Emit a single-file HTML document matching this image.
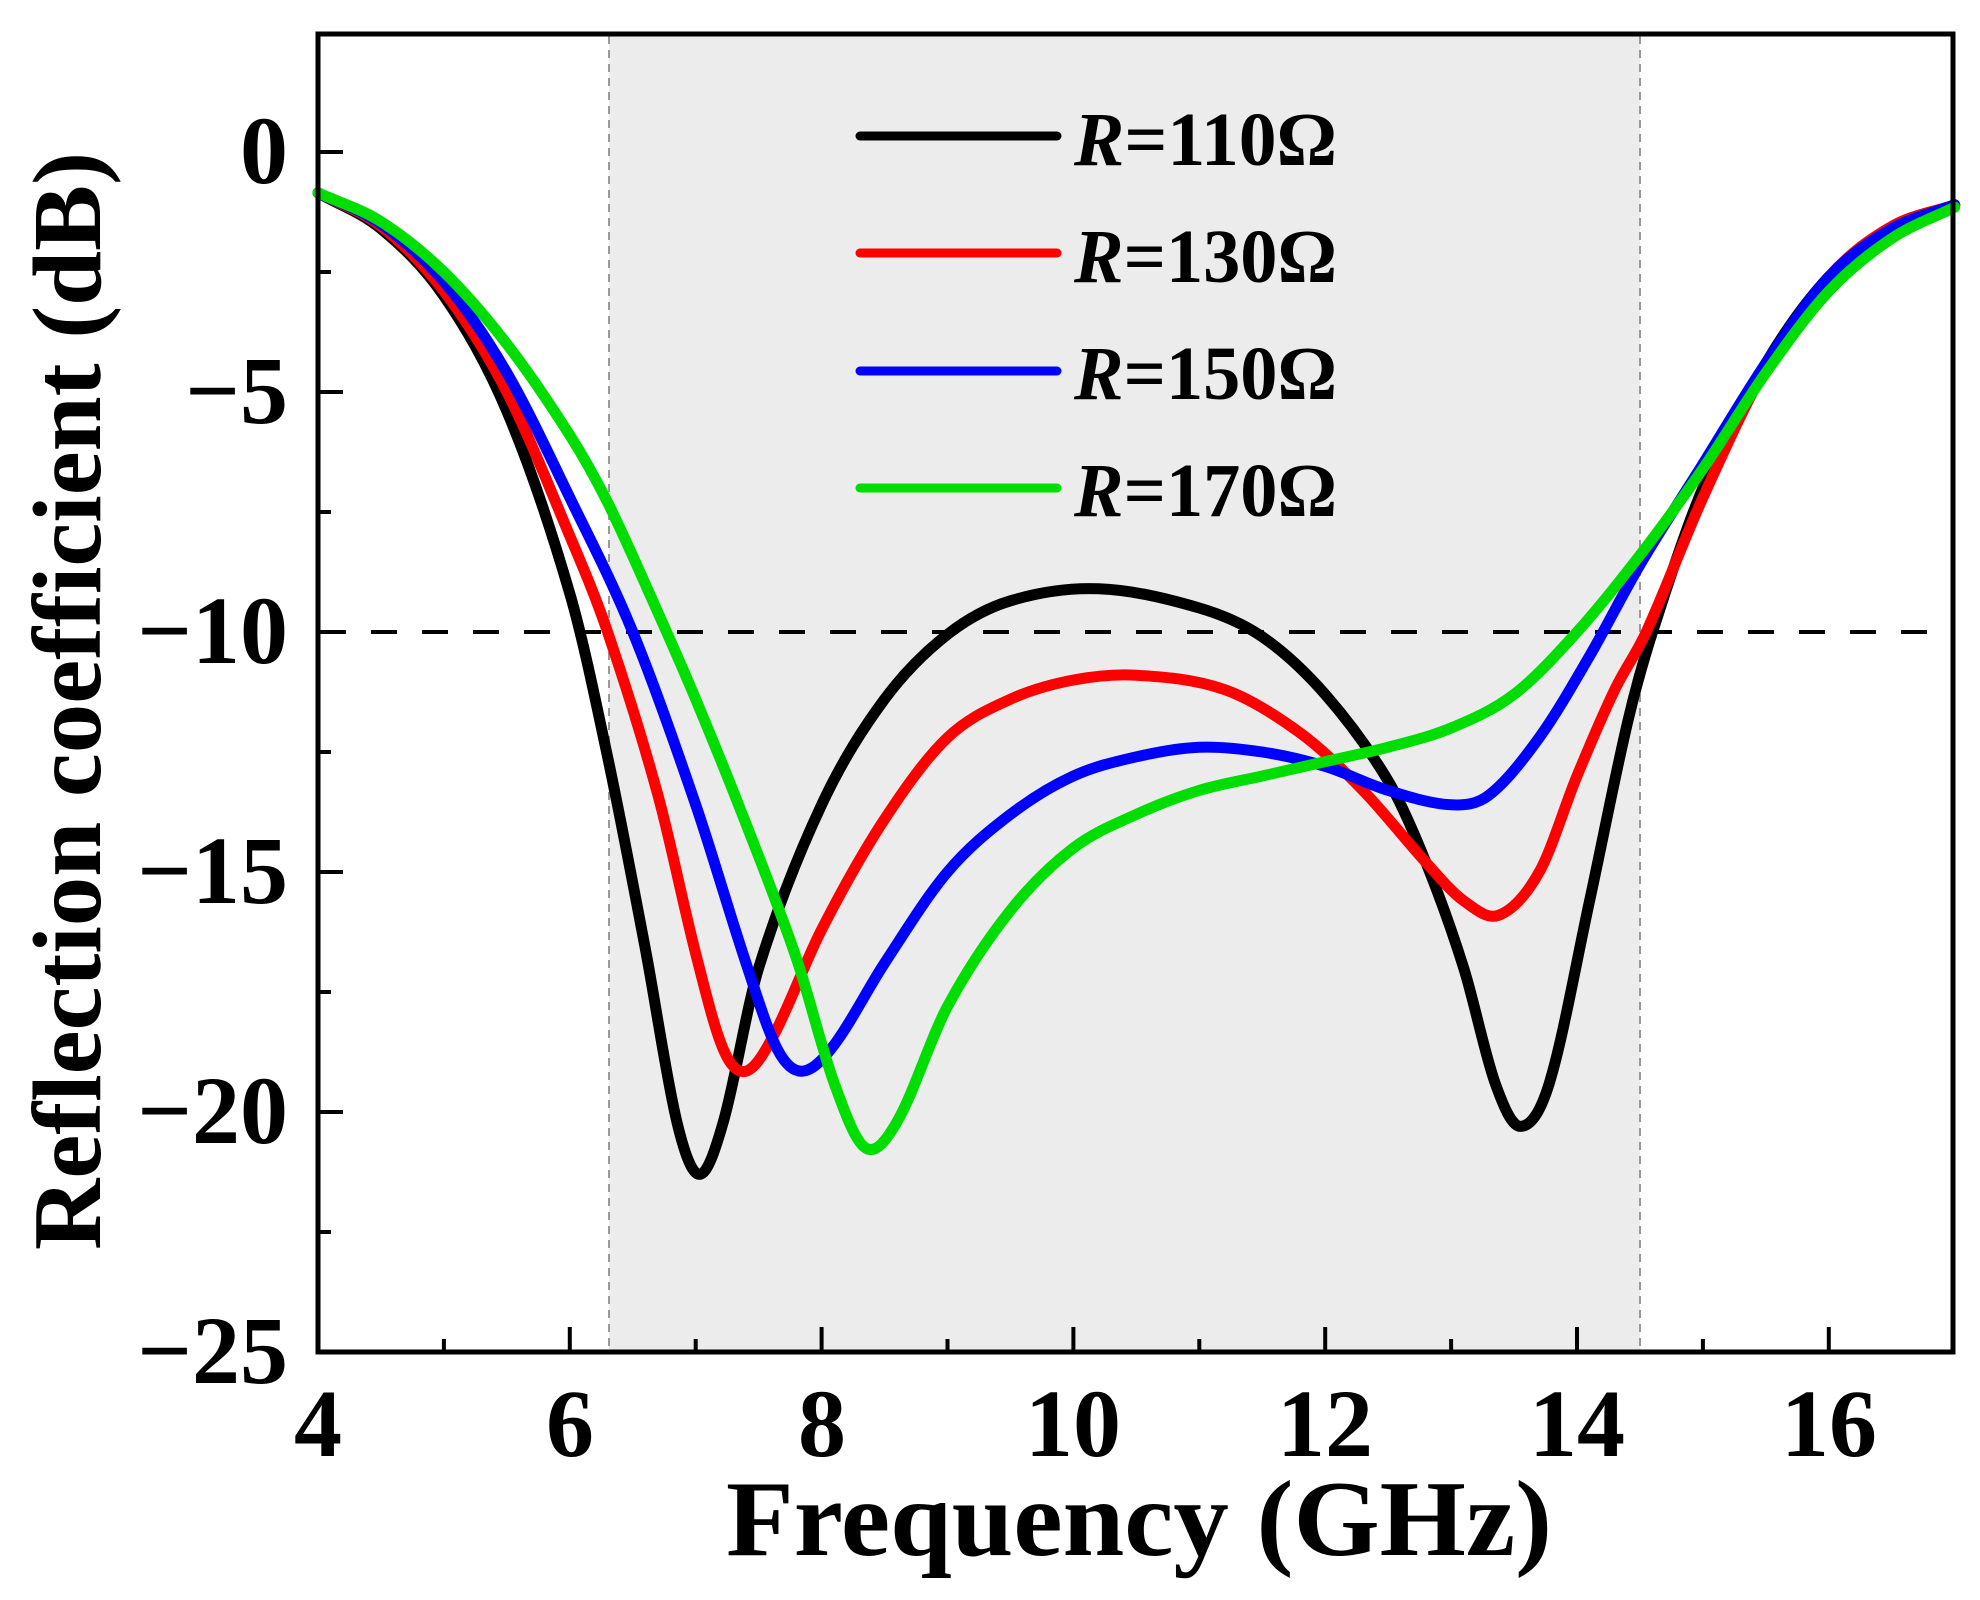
<!DOCTYPE html>
<html><head><meta charset="utf-8"><style>
html,body{margin:0;padding:0;background:#fff;}
svg{display:block;}
text{font-family:"Liberation Serif",serif;font-weight:bold;fill:#000;}
</style></head><body>
<svg id="s" width="1980" height="1600" viewBox="0 0 1980 1600" xmlns="http://www.w3.org/2000/svg">
<rect x="609" y="34" width="1031" height="1318" fill="#ececec"/>
<line x1="609" y1="36" x2="609" y2="1350" stroke="#999" stroke-width="2" stroke-dasharray="8,6"/>
<line x1="1640" y1="36" x2="1640" y2="1350" stroke="#999" stroke-width="2" stroke-dasharray="8,6"/>
<line x1="320" y1="632" x2="1953" y2="632" stroke="#000" stroke-width="4" stroke-dasharray="26,25"/>
<g id="curves" fill="none" stroke-width="11" stroke-linejoin="round" stroke-linecap="round"></g>
<g id="ticks" stroke="#000" stroke-width="4"></g>
<rect x="318" y="34" width="1635" height="1318" fill="none" stroke="#000" stroke-width="5"/>
<g font-size="96" text-anchor="middle">
<text x="318" y="1456">4</text><text x="570" y="1456">6</text><text x="822" y="1456">8</text>
<text x="1073" y="1456">10</text><text x="1325" y="1456">12</text><text x="1577" y="1456">14</text><text x="1829" y="1456">16</text>
</g>
<g font-size="96" text-anchor="end">
<text x="288" y="183">0</text><text x="288" y="423">−5</text><text x="288" y="663">−10</text>
<text x="288" y="903">−15</text><text x="288" y="1143">−20</text><text x="288" y="1383">−25</text>
</g>
<text x="726" y="1555" font-size="108" textLength="826" lengthAdjust="spacingAndGlyphs">Frequency (GHz)</text>
<text transform="translate(100,1250) rotate(-90)" font-size="98" textLength="1098" lengthAdjust="spacingAndGlyphs">Reflection coefficient (dB)</text>
<g stroke-width="9" stroke-linecap="round">
<line x1="860" y1="136" x2="1057" y2="136" stroke="#000"/>
<line x1="860" y1="253" x2="1057" y2="253" stroke="#f00"/>
<line x1="860" y1="371" x2="1057" y2="371" stroke="#00f"/>
<line x1="860" y1="488" x2="1057" y2="488" stroke="#00dd00"/>
</g>
<g font-size="76">
<text x="1074" y="165" textLength="263" lengthAdjust="spacingAndGlyphs"><tspan font-style="italic">R</tspan>=110Ω</text>
<text x="1074" y="282" textLength="263" lengthAdjust="spacingAndGlyphs"><tspan font-style="italic">R</tspan>=130Ω</text>
<text x="1074" y="399" textLength="263" lengthAdjust="spacingAndGlyphs"><tspan font-style="italic">R</tspan>=150Ω</text>
<text x="1074" y="516" textLength="263" lengthAdjust="spacingAndGlyphs"><tspan font-style="italic">R</tspan>=170Ω</text>
</g>
</svg>
<script>
var X=function(f){return 318+(f-4)*125.9;},Y=function(d){return 152-d*48;};
var data={
"#000":[[4,-0.85],[4.5,-1.6],[5,-3.0],[5.5,-5.4],[6,-9.2],[6.3,-12.6],[6.6,-16.6],[6.85,-20.2],[7.03,-21.3],[7.22,-20.2],[7.5,-17.0],[8,-13.6],[8.5,-11.4],[9,-10.05],[9.5,-9.35],[10.2,-9.1],[11,-9.5],[11.5,-10.1],[12,-11.3],[12.5,-13.1],[12.8,-14.8],[13.1,-17.0],[13.35,-19.4],[13.55,-20.3],[13.78,-19.4],[14.1,-15.6],[14.4,-11.9],[14.6,-10],[15,-7],[15.5,-4.4],[16,-2.6],[16.5,-1.6],[17,-1.1]],
"#f00":[[4,-0.85],[4.5,-1.55],[5,-2.9],[5.5,-5.0],[6,-8.0],[6.3,-10],[6.7,-13.4],[7.0,-16.7],[7.22,-18.7],[7.4,-19.15],[7.62,-18.4],[8,-16.2],[8.5,-13.9],[9,-12.2],[9.5,-11.4],[10,-11.0],[10.5,-10.9],[11.2,-11.2],[11.8,-12.1],[12.3,-13.3],[12.8,-14.8],[13.1,-15.6],[13.38,-15.9],[13.7,-15.0],[14,-13.0],[14.3,-11.2],[14.55,-10],[15,-7.2],[15.5,-4.5],[16,-2.6],[16.5,-1.55],[17,-1.1]],
"#00f":[[4,-0.85],[4.5,-1.5],[5,-2.7],[5.5,-4.6],[6,-7.2],[6.5,-10],[7,-13.6],[7.4,-16.9],[7.65,-18.7],[7.85,-19.15],[8.1,-18.6],[8.5,-16.9],[9,-15.0],[9.5,-13.8],[10,-13.0],[10.5,-12.6],[11,-12.4],[11.5,-12.5],[12,-12.8],[12.5,-13.3],[13,-13.6],[13.3,-13.4],[13.7,-12.2],[14.1,-10.5],[14.5,-8.6],[15,-6.5],[15.5,-4.4],[16,-2.6],[16.5,-1.6],[17,-1.1]],
"#00dd00":[[4,-0.85],[4.5,-1.45],[5,-2.5],[5.5,-4.0],[6,-5.9],[6.3,-7.3],[6.65,-9.3],[7,-11.4],[7.4,-14.0],[7.8,-16.8],[8.1,-19.4],[8.35,-20.75],[8.6,-20.2],[9,-17.8],[9.5,-15.8],[10,-14.5],[10.5,-13.8],[11,-13.3],[11.5,-13.0],[12,-12.7],[12.5,-12.4],[13,-12.0],[13.5,-11.3],[14,-10],[14.5,-8.4],[15,-6.6],[15.5,-4.6],[16,-2.9],[16.5,-1.8],[17,-1.15]]};
var g=document.getElementById('curves'),ns='http://www.w3.org/2000/svg';
for(var c in data){var p=data[c].map(function(a){return[X(a[0]),Y(a[1])];});
var n=p.length,m=[];
for(var i=0;i<n;i++){var a=p[Math.max(0,i-1)],b=p[Math.min(n-1,i+1)];m.push((b[1]-a[1])/(b[0]-a[0]));}
var d='M'+p[0][0]+','+p[0][1];
for(var i=0;i<n-1;i++){var dx=(p[i+1][0]-p[i][0])/3;
d+=' C'+(p[i][0]+dx)+','+(p[i][1]+m[i]*dx)+' '+(p[i+1][0]-dx)+','+(p[i+1][1]-m[i+1]*dx)+' '+p[i+1][0]+','+p[i+1][1];}
var e=document.createElementNS(ns,'path');e.setAttribute('d',d);e.setAttribute('stroke',c);g.appendChild(e);}
var t=document.getElementById('ticks');
function ln(a,b,c,d){var e=document.createElementNS(ns,'line');e.setAttribute('x1',a);e.setAttribute('y1',b);e.setAttribute('x2',c);e.setAttribute('y2',d);t.appendChild(e);}
for(var f=5;f<=16;f++){var x=X(f);ln(x,1352,x,1352-(f%2==0?25:13));}
for(var v=0;v>=-22.5;v-=2.5){var y=Y(v);ln(318,y,318+(v%5==0?25:13),y);}
</script>
</body></html>
